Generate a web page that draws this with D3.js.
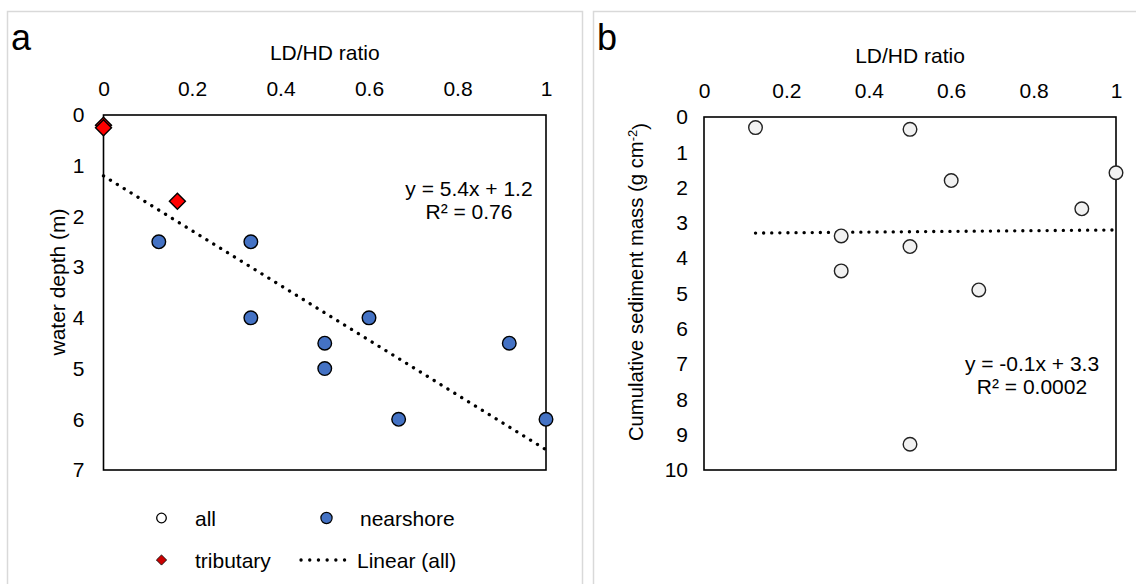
<!DOCTYPE html>
<html>
<head>
<meta charset="utf-8">
<script src="https://cdn.jsdelivr.net/npm/d3@7"></script>
<style>
    body { margin: 0; background: #fff; }
    svg text { font-family: "Liberation Sans", Arial, sans-serif; fill: #000; }
</style>
</head>
<body>
<div id="chart"></div>
<script>
// ---- data ----
var xTicks = [0, 0.2, 0.4, 0.6, 0.8, 1];
var yTicksA = [0, 1, 2, 3, 4, 5, 6, 7];
var yTicksB = [0, 1, 2, 3, 4, 5, 6, 7, 8, 9, 10];

// panel a: LD/HD ratio vs water depth
var nearshoreX = [0.125, 0.333, 0.333, 0.5, 0.5, 0.6, 0.917, 0.667, 1];
var nearshoreY = [2.5, 2.5, 4, 4.5, 5, 4, 4.5, 6, 6];
var tributaryX = [0, 0, 0.167];
var tributaryY = [0.2, 0.25, 1.7];
var fitA = { slope: 5.4, intercept: 1.2, r2: "0.76" };

// panel b: LD/HD ratio vs cumulative sediment mass
var massX = [0.125, 0.5, 0.6, 1, 0.917, 0.333, 0.5, 0.333, 0.667, 0.5];
var massY = [0.3, 0.35, 1.8, 1.58, 2.6, 3.37, 3.67, 4.36, 4.9, 9.27];
var fitB = { slope: -0.1, intercept: 3.3, r2: "0.0002" };

var legendLabels = ["all", "nearshore", "tributary", "Linear (all)"];

function zip(xs, ys) {
    return xs.map(function (x, i) { return { x: x, y: ys[i] }; });
}

var W = 1136, H = 584;
var svg = d3.select('#chart').append('svg')
    .attr('width', W)
    .attr('height', H);

// panel frames
svg.append('rect')
    .attr('x', 7.5).attr('y', 11.5)
    .attr('width', 575).attr('height', 620)
    .attr('fill', 'none').attr('stroke', '#d9d9d9').attr('stroke-width', 1.5);
svg.append('rect')
    .attr('x', 593.5).attr('y', 11.5)
    .attr('width', 600).attr('height', 620)
    .attr('fill', 'none').attr('stroke', '#d9d9d9').attr('stroke-width', 1.5);

function drawPanel(cfg) {
    var x = d3.scaleLinear().domain([0, 1]).range([cfg.left, cfg.right]);
    var y = d3.scaleLinear().domain([0, cfg.yMax]).range([cfg.top, cfg.bottom]);
    var fmt = d3.format("~f");

    var gx = svg.append('g')
        .attr('transform', 'translate(0,' + cfg.top + ')')
        .call(d3.axisTop(x).tickValues(xTicks).tickSize(0).tickPadding(19).tickFormat(fmt));
    var gy = svg.append('g')
        .attr('transform', 'translate(' + cfg.left + ',0)')
        .call(d3.axisLeft(y).tickValues(cfg.yTicks).tickSize(0).tickPadding(cfg.yPad).tickFormat(fmt));
    [gx, gy].forEach(function (g) {
        g.select('.domain').remove();
        g.selectAll('text')
            .style('font-size', '21px')
            .attr('fill', '#000');
    });

    // plot border
    svg.append('rect')
        .attr('x', cfg.left).attr('y', cfg.top)
        .attr('width', cfg.right - cfg.left)
        .attr('height', cfg.bottom - cfg.top)
        .attr('fill', 'none')
        .attr('stroke', '#000')
        .attr('stroke-width', 1.6);

    // axis titles
    svg.append('text')
        .attr('x', (cfg.left + cfg.right) / 2)
        .attr('y', cfg.titleY)
        .attr('text-anchor', 'middle')
        .style('font-size', '21px')
        .text('LD/HD ratio');

    var yl = svg.append('text')
        .attr('transform', 'translate(' + cfg.yLabelX + ',' + cfg.yLabelY + ') rotate(-90)')
        .attr('text-anchor', 'middle')
        .attr('dy', '0.35em')
        .style('font-size', cfg.yLabelSize);
    cfg.yLabel(yl);

    svg.append('text')
        .attr('x', cfg.panelX)
        .attr('y', 50)
        .style('font-size', '36px')
        .text(cfg.panel);

    // trend line over the x-range of all data
    var ext = d3.extent(cfg.allX);
    var fit = cfg.fit;
    var line = d3.line()
        .x(function (d) { return x(d); })
        .y(function (d) { return y(fit.slope * d + fit.intercept); });
    svg.append('path')
        .attr('d', line(ext))
        .attr('fill', 'none')
        .attr('stroke', '#000')
        .attr('stroke-width', 3.3)
        .attr('stroke-linecap', 'round')
        .attr('stroke-dasharray', '0.1,8');

    // equation
    var eq = (fit.slope < 0 ? '-' : '') + Math.abs(fit.slope) + 'x + ' + fit.intercept;
    svg.append('text')
        .attr('x', cfg.eqX).attr('y', cfg.eqY)
        .attr('text-anchor', 'middle')
        .style('font-size', '21px')
        .text('y = ' + eq);
    svg.append('text')
        .attr('x', cfg.eqX).attr('y', cfg.eqY + 23)
        .attr('text-anchor', 'middle')
        .style('font-size', '21px')
        .text('R\u00b2 = ' + fit.r2);

    return { x: x, y: y };
}

// ---- panel a ----
var a = drawPanel({
    left: 103.5, right: 546, top: 115, bottom: 470,
    yMax: 7, yTicks: yTicksA, yPad: 19,
    titleY: 60, panel: 'a', panelX: 11,
    yLabelX: 58, yLabelY: 282, yLabelSize: '21px',
    yLabel: function (t) { t.text('water depth (m)'); },
    allX: nearshoreX.concat(tributaryX),
    fit: fitA, eqX: 469, eqY: 196
});

svg.append('g').selectAll('circle')
    .data(zip(nearshoreX, nearshoreY))
    .enter().append('circle')
    .attr('cx', function (d) { return a.x(d.x); })
    .attr('cy', function (d) { return a.y(d.y); })
    .attr('r', 6.8)
    .attr('fill', '#4472c4')
    .attr('stroke', '#000')
    .attr('stroke-width', 1.4);

var diamond = d3.symbol().type(d3.symbolSquare).size(128);
svg.append('g').selectAll('path')
    .data(zip(tributaryX, tributaryY))
    .enter().append('path')
    .attr('d', diamond)
    .attr('transform', function (d) {
        return 'translate(' + a.x(d.x) + ',' + a.y(d.y) + ') rotate(45)';
    })
    .attr('fill', '#ff0000')
    .attr('stroke', '#000')
    .attr('stroke-width', 1.4);

// legend
var leg = svg.append('g');
var legRows = [
    { label: legendLabels[0], mx: 161.5, ty: 518, tx: 195, type: 'all' },
    { label: legendLabels[1], mx: 326.5, ty: 518, tx: 360, type: 'nearshore' },
    { label: legendLabels[2], mx: 161.5, ty: 560, tx: 195, type: 'tributary' },
    { label: legendLabels[3], mx: 327, ty: 560, tx: 357, type: 'linear' }
];
legRows.forEach(function (d) {
    if (d.type === 'all') {
        leg.append('circle').attr('cx', d.mx).attr('cy', d.ty).attr('r', 4.8)
            .attr('fill', '#fff').attr('stroke', '#000').attr('stroke-width', 1.3);
    } else if (d.type === 'nearshore') {
        leg.append('circle').attr('cx', d.mx).attr('cy', d.ty).attr('r', 5.6)
            .attr('fill', '#4472c4').attr('stroke', '#000').attr('stroke-width', 1.2);
    } else if (d.type === 'tributary') {
        leg.append('path').attr('d', d3.symbol().type(d3.symbolSquare).size(52))
            .attr('transform', 'translate(' + d.mx + ',' + d.ty + ') rotate(45)')
            .attr('fill', '#cc0000').attr('stroke', '#000').attr('stroke-width', 0.8);
    } else {
        leg.append('line')
            .attr('x1', 301).attr('x2', 353).attr('y1', d.ty).attr('y2', d.ty)
            .attr('stroke', '#000').attr('stroke-width', 3.3)
            .attr('stroke-linecap', 'round').attr('stroke-dasharray', '0.1,8.6');
    }
    leg.append('text')
        .attr('x', d.tx)
        .attr('y', d.ty)
        .attr('dy', '0.36em')
        .style('font-size', '21px')
        .text(d.label);
});

// ---- panel b ----
var b = drawPanel({
    left: 704, right: 1116, top: 117, bottom: 470,
    yMax: 10, yTicks: yTicksB, yPad: 16,
    titleY: 63, panel: 'b', panelX: 597,
    yLabelX: 636, yLabelY: 282, yLabelSize: '20.3px',
    yLabel: function (t) {
        t.append('tspan').text('Cumulative sediment mass (g cm');
        t.append('tspan').attr('dy', '-0.5em').style('font-size', '13px').text('-2');
        t.append('tspan').attr('dy', '0.5em').text(')');
    },
    allX: massX,
    fit: fitB, eqX: 1032, eqY: 371
});

svg.append('g').selectAll('circle')
    .data(zip(massX, massY))
    .enter().append('circle')
    .attr('cx', function (d) { return b.x(d.x); })
    .attr('cy', function (d) { return b.y(d.y); })
    .attr('r', 6.8)
    .attr('fill', '#f2f2f2')
    .attr('stroke', '#222')
    .attr('stroke-width', 1.4);
</script>
</body>
</html>
